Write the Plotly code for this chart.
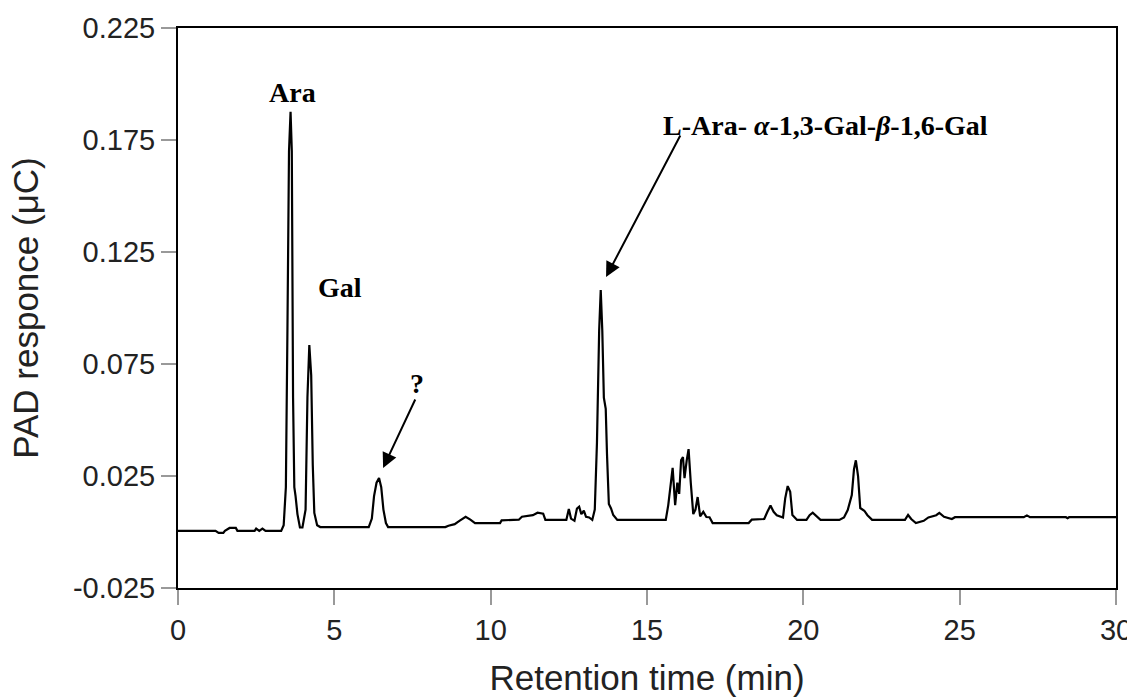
import plotly.graph_objects as go

# Retention time (min) and PAD response (uC)
retention_time = [
    0.0, 1.2, 1.3, 1.45, 1.5, 1.65, 1.85, 1.9, 2.45, 2.5, 2.6, 2.7, 2.8, 3.3,
    3.38, 3.45, 3.5, 3.55, 3.6, 3.64, 3.68, 3.72, 3.76, 3.82, 3.9, 3.98,
    4.08, 4.14, 4.2, 4.26, 4.31, 4.36, 4.45, 4.55,
    6.1, 6.2, 6.27, 6.35, 6.43, 6.5, 6.57, 6.65, 6.72,
    8.55, 8.65, 8.85, 9.0, 9.2, 9.35, 9.5, 10.3, 10.35, 10.9, 11.0, 11.35,
    11.5, 11.68, 11.75, 12.42, 12.5, 12.57, 12.68, 12.76, 12.83, 12.9, 12.98,
    13.05, 13.15, 13.25, 13.33, 13.4, 13.47, 13.52, 13.57, 13.62, 13.68,
    13.72, 13.78, 13.85, 13.92, 14.05,
    15.6, 15.68, 15.76, 15.82, 15.9, 15.97, 16.03, 16.09, 16.15, 16.2, 16.27,
    16.33, 16.4, 16.48, 16.55, 16.62, 16.7, 16.8, 16.9, 17.0, 17.1,
    18.25, 18.35, 18.75, 18.85, 18.95, 19.05, 19.15, 19.35, 19.42, 19.5,
    19.58, 19.65, 19.8, 20.1, 20.2, 20.3, 20.45, 20.55,
    21.15, 21.3, 21.42, 21.55, 21.62, 21.68, 21.75, 21.82, 21.95, 22.05, 22.2,
    23.25, 23.35, 23.45, 23.6, 23.85, 24.0, 24.1, 24.25, 24.35, 24.5, 24.75,
    24.85, 27.05, 27.15, 27.25, 28.4, 28.45, 28.5, 30.0,
]
pad_response = [
    0.0005, 0.0005, -0.0004, -0.0004, 0.0005, 0.0018, 0.0018, 0.0005, 0.0005,
    0.0015, 0.0005, 0.0015, 0.0005, 0.0005,
    0.003, 0.02, 0.09, 0.17, 0.1876, 0.17, 0.06, 0.02, 0.016, 0.008, 0.002,
    0.002, 0.01, 0.06, 0.0835, 0.07, 0.03, 0.0085, 0.003, 0.0022,
    0.0022, 0.006, 0.016, 0.022, 0.0241, 0.02, 0.01, 0.004, 0.0022,
    0.0022, 0.0028, 0.0035, 0.005, 0.0068, 0.0055, 0.004, 0.004, 0.0052,
    0.0055, 0.0068, 0.0075, 0.0086, 0.0082, 0.0054, 0.0054, 0.0103, 0.006,
    0.005, 0.0105, 0.0113, 0.008, 0.0095, 0.0068, 0.0065, 0.0054, 0.01, 0.04,
    0.09, 0.108, 0.09, 0.06, 0.055, 0.035, 0.0125, 0.0105, 0.0076, 0.0054,
    0.0054, 0.012, 0.023, 0.0286, 0.012, 0.022, 0.017, 0.032, 0.0335, 0.024,
    0.032, 0.037, 0.022, 0.008, 0.01, 0.0156, 0.007, 0.009, 0.0067, 0.0066,
    0.004,
    0.004, 0.0055, 0.0058, 0.009, 0.0118, 0.009, 0.0075, 0.0065, 0.015,
    0.0205, 0.018, 0.0076, 0.0054, 0.0054, 0.0075, 0.0086, 0.0065, 0.0054,
    0.0054, 0.0065, 0.0098, 0.0165, 0.028, 0.032, 0.025, 0.0107, 0.0095,
    0.0075, 0.0054,
    0.0054, 0.0076, 0.0058, 0.004, 0.005, 0.0065, 0.0068, 0.0075, 0.0085,
    0.0068, 0.0058, 0.0066, 0.0066, 0.0074, 0.0066, 0.0066, 0.0062, 0.0066,
    0.0066,
]

x_ticks = [0, 5, 10, 15, 20, 25, 30]
y_ticks = [-0.025, 0.025, 0.075, 0.125, 0.175, 0.225]
y_tick_labels = ["-0.025", "0.025", "0.075", "0.125", "0.175", "0.225"]

fig = go.Figure()
fig.add_trace(go.Scatter(
    x=retention_time, y=pad_response, mode="lines",
    line=dict(color="black", width=2.2), showlegend=False,
))

serif = dict(family="Liberation Serif", size=28, color="black")

fig.add_annotation(x=3.65, y=0.196, text="<b>Ara</b>", showarrow=False,
                   font=serif, xref="x", yref="y")
fig.add_annotation(x=5.18, y=0.109, text="<b>Gal</b>", showarrow=False,
                   font=serif, xref="x", yref="y")
fig.add_annotation(x=7.64, y=0.0665, text="<b>?</b>", showarrow=False,
                   font=serif, xref="x", yref="y")
fig.add_annotation(x=20.72, y=0.1815,
                   text="<b>L-Ara- <i>α</i>-1,3-Gal-<i>β</i>-1,6-Gal</b>",
                   showarrow=False, font=serif, xref="x", yref="y")
# arrows
fig.add_annotation(x=13.69, y=0.1138, ax=16.09, ay=0.1777, xref="x", yref="y",
                   axref="x", ayref="y", text="", showarrow=True,
                   arrowhead=2, arrowsize=1.5, arrowwidth=2, arrowcolor="black",
                   standoff=0)
fig.add_annotation(x=6.56, y=0.0286, ax=7.61, ay=0.0598, xref="x", yref="y",
                   axref="x", ayref="y", text="", showarrow=True,
                   arrowhead=2, arrowsize=1.5, arrowwidth=2, arrowcolor="black",
                   standoff=0)

axis_font = dict(family="Liberation Sans, Arial, sans-serif", size=29, color="#222")
title_font = dict(family="Liberation Sans, Arial, sans-serif", size=35, color="#222")

fig.update_layout(
    width=1127, height=700,
    margin=dict(l=178, r=11, t=28, b=112),
    paper_bgcolor="white", plot_bgcolor="white",
    xaxis=dict(
        range=[0, 30], tickvals=x_ticks, ticks="outside", ticklen=15,
        tickwidth=2, tickcolor="#999", showline=True, linecolor="black",
        linewidth=2, mirror=True, showgrid=False, zeroline=False,
        tickfont=axis_font, automargin=False, ticklabeloverflow="allow",
        title=dict(text="Retention time (min)", font=title_font, standoff=21),
    ),
    yaxis=dict(
        range=[-0.025, 0.225], tickvals=y_ticks, ticktext=y_tick_labels,
        ticks="outside", ticklen=15, tickwidth=2, tickcolor="#999",
        showline=True, linecolor="black", linewidth=2, mirror=True,
        showgrid=False, zeroline=False, tickfont=axis_font, automargin=False,
        title=dict(text="PAD responce (μC)", font=title_font, standoff=24),
    ),
)

fig.write_html("out.html",
               config={"displayModeBar": False},
               post_script="document.body.style.margin='0';"
                           "document.body.style.overflow='hidden';")
